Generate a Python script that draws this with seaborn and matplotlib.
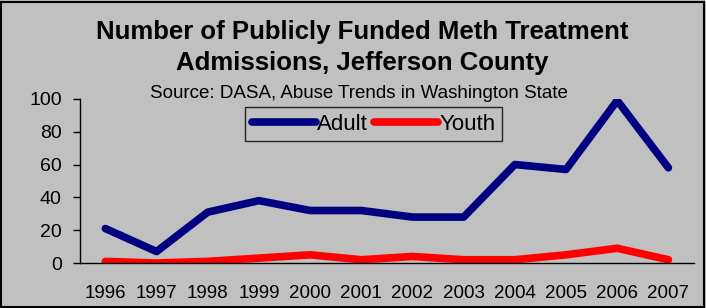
import matplotlib
matplotlib.use("Agg")
import matplotlib.pyplot as plt
import seaborn as sns
import pandas as pd

years = ["1996", "1997", "1998", "1999", "2000", "2001",
         "2002", "2003", "2004", "2005", "2006", "2007"]
adult = [21, 7, 31, 38, 32, 32, 28, 28, 60, 57, 99, 58]
youth = [1, 0, 1, 3, 5, 2, 4, 2, 2, 5, 9, 2]

df = pd.DataFrame({"pos": list(range(len(years))) * 2,
                   "value": adult + youth,
                   "group": ["Adult"] * len(years) + ["Youth"] * len(years)})

sns.set_style("white")
plt.rcParams["font.family"] = ["Liberation Sans", "DejaVu Sans"]
plt.rcParams["text.color"] = "black"
plt.rcParams["xtick.color"] = "black"
plt.rcParams["ytick.color"] = "black"

fig = plt.figure(figsize=(7.06, 3.08), dpi=100, facecolor="#C0C0C0")
ax = fig.add_axes([0.113, 0.146, 0.870, 0.533])
ax.set_facecolor("#C0C0C0")

sns.lineplot(data=df, x="pos", y="value", hue="group",
             palette={"Adult": "#000080", "Youth": "#FF0000"},
             linewidth=5.5, solid_capstyle="round", ax=ax)

ax.set_xlim(-0.5, len(years) - 0.5)
ax.set_ylim(0, 100)
ax.set_yticks(range(0, 101, 20))
ax.set_xticks(range(len(years)))
ax.set_xticklabels(years)
ax.set_xticks([i - 0.5 for i in range(len(years) + 1)], minor=True)
ax.tick_params(axis="x", which="major", length=0, pad=16, labelsize=13.5)
ax.tick_params(axis="x", which="minor", length=5, width=1, direction="out")
ax.tick_params(axis="y", length=5, width=1, direction="out", labelsize=14, left=True, pad=8)
ax.set_xlabel("")
ax.set_ylabel("")
for s in ["top", "right"]:
    ax.spines[s].set_visible(False)
for s in ["left", "bottom"]:
    ax.spines[s].set_color("black")
    ax.spines[s].set_linewidth(1)

leg = ax.legend(loc="upper left", bbox_to_anchor=(0.269, 0.951), ncol=2,
                borderaxespad=0, frameon=True, fancybox=False, fontsize=16,
                handlelength=2.9, handletextpad=0.05, columnspacing=0.25,
                borderpad=0.3)
leg.get_frame().set_edgecolor("black")
leg.get_frame().set_facecolor("#C0C0C0")
leg.get_frame().set_linewidth(1)
for line in leg.get_lines():
    line.set_linewidth(5.5)

fig.text(0.513, 0.935, "Number of Publicly Funded Meth Treatment\nAdmissions, Jefferson County",
         ha="center", va="top", fontsize=18.5, fontweight="bold", linespacing=1.38)
fig.text(0.508, 0.698, "Source: DASA, Abuse Trends in Washington State",
         ha="center", va="center", fontsize=13.5)

# black frame around the whole figure
fig.patches.append(plt.Rectangle((0.002, 0.003), 0.995, 0.992, transform=fig.transFigure,
                                 fill=False, edgecolor="black", linewidth=1.5))

fig.savefig("out.png", dpi=100, facecolor=fig.get_facecolor())
